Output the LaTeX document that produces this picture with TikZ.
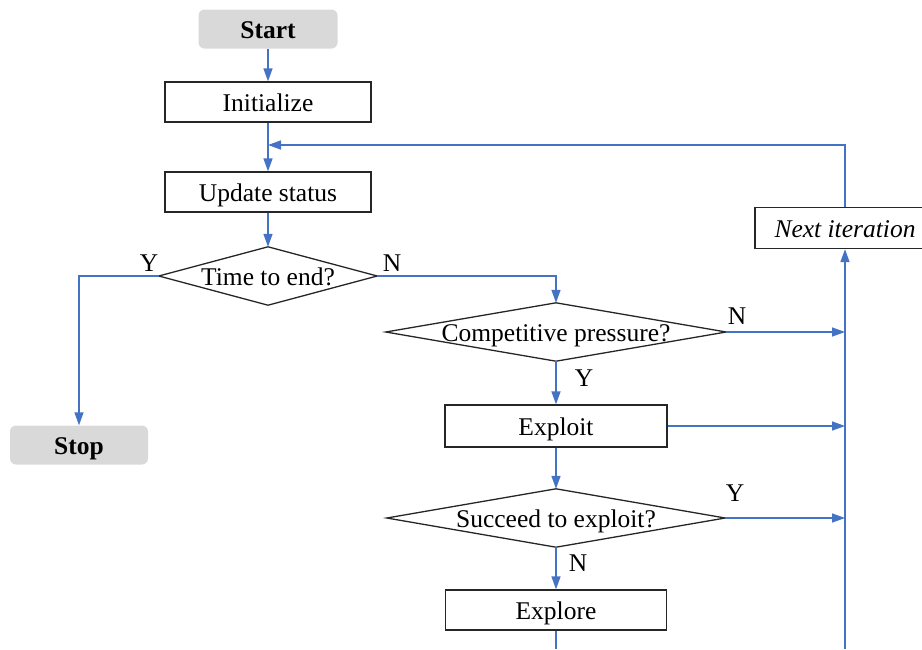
\documentclass[tikz,border=0pt]{standalone}
\usepackage{fontspec}
\setmainfont{Liberation Serif}
\usetikzlibrary{arrows.meta}
\definecolor{flowblue}{HTML}{4472C4}
\definecolor{termgray}{HTML}{D9D9D9}
\begin{document}
\begin{tikzpicture}[x=1pt,y=-1pt,
  font=\fontsize{25.5}{30}\selectfont,
  every node/.style={text height=19.5pt,text depth=0pt},
  box/.style={draw=black!85,line width=1.3pt,minimum height=40pt,inner sep=0pt},
  term/.style={fill=termgray,rounded corners=6pt,minimum height=39pt,inner sep=0pt,font=\fontsize{25.5}{30}\selectfont\bfseries},
  decision/.style={minimum height=58pt,inner sep=0pt},
  dshape/.style={draw=black!85,line width=1.3pt},
  flow/.style={draw=flowblue,line width=1.5pt,-{Triangle[length=13pt,width=9pt]}},
  plainflow/.style={draw=flowblue,line width=1.5pt},
  lab/.style={inner sep=0pt}]
\clip (0,0) rectangle (922,649);
% nodes
\node[term,minimum width=139pt] (start) at (268,29) {Start};
\node[box,minimum width=206pt] (init) at (268,102) {Initialize};
\node[box,minimum width=206pt] (upd) at (268,192) {Update status};
\node[decision,minimum width=218pt] (d1) at (268,276) {Time to end?};
\node[term,minimum width=138pt] (stop) at (79,445) {Stop};
\node[decision,minimum width=340pt] (d2) at (556,332) {Competitive pressure?};
\node[box,minimum width=222pt,minimum height=42pt] (exploit) at (556,426) {Exploit};
\node[decision,minimum width=338pt] (d3) at (556,518) {Succeed to exploit?};
\node[box,minimum width=221pt] (explore) at (556,610) {Explore};
\node[box,minimum width=180pt,minimum height=41pt,font=\fontsize{25.5}{30}\selectfont\itshape] (next) at (845,228) {Next iteration};
% diamond outlines
\draw[dshape] (d1.west) -- (d1.north) -- (d1.east) -- (d1.south) -- cycle;
\draw[dshape] (d2.west) -- (d2.north) -- (d2.east) -- (d2.south) -- cycle;
\draw[dshape] (d3.west) -- (d3.north) -- (d3.east) -- (d3.south) -- cycle;
% helper coordinates
\coordinate (fb) at (268,145);
\coordinate (j2) at (845,332);
\coordinate (j3) at (845,426);
\coordinate (j4) at (845,518);
\coordinate (bot) at (845,649);
\coordinate (exbot) at (556,649);
% connectors
\draw[flow] (start) -- (init);
\draw[flow] (init) -- (upd);
\draw[flow] (next.north) |- (fb);
\draw[flow] (upd) -- (d1.north);
\draw[flow] (d1.west) -| (stop.north);
\draw[flow] (d1.east) -| (d2.north);
\draw[flow] (d2.east) -- (j2);
\draw[flow] (d2.south) -- (exploit.north);
\draw[flow] (exploit.east) -- (j3);
\draw[flow] (exploit.south) -- (d3.north);
\draw[flow] (d3.east) -- (j4);
\draw[flow] (d3.south) -- (explore.north);
\draw[plainflow] (explore.south) -- (exbot);
\draw[flow] (bot) -- (next.south);
% labels
\node[lab] (ly1) at (149,262) {Y};
\node[lab] (ln1) at (392,262) {N};
\node[lab] (ln2) at (737,315) {N};
\node[lab] (ly2) at (584,377) {Y};
\node[lab] (ly3) at (735,492) {Y};
\node[lab] (ln3) at (578,562) {N};
\end{tikzpicture}
\end{document}
